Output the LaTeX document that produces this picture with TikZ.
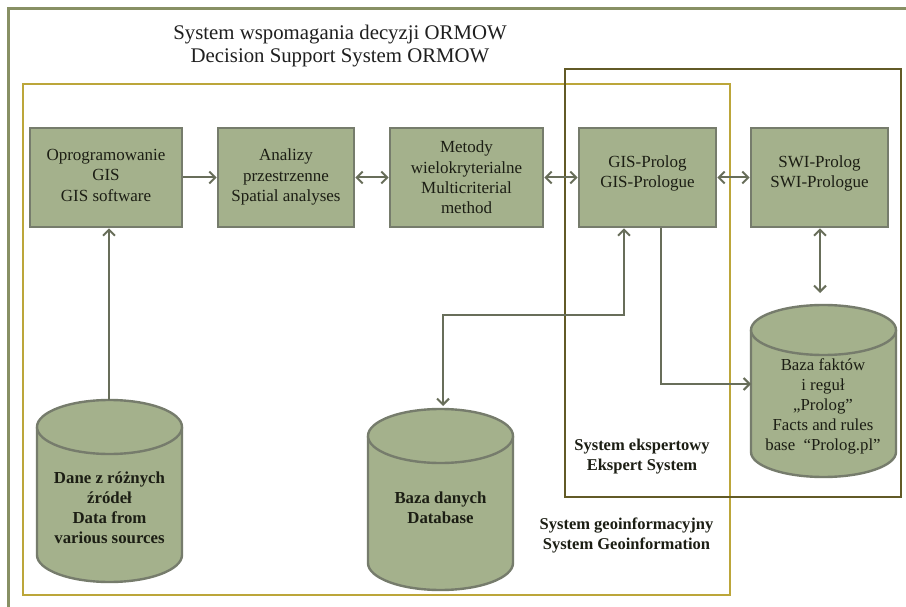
\documentclass[tikz,border=0pt]{standalone}
\usepackage{fontspec}
\setmainfont{Liberation Serif}
\usetikzlibrary{arrows.meta}
\definecolor{boxfill}{RGB}{164,177,140}
\definecolor{boxborder}{RGB}{118,124,108}
\definecolor{linecol}{RGB}{104,110,90}
\definecolor{outercol}{RGB}{136,144,100}
\definecolor{geocol}{RGB}{188,166,58}
\definecolor{expcol}{RGB}{98,90,38}
\definecolor{txtcol}{RGB}{28,30,20}
\tikzset{
  x=1pt, y=-1pt,
  stepbox/.style={draw=boxborder, fill=boxfill, line width=2.6pt, align=center,
    text=txtcol, font=\fontsize{17}{20.3}\selectfont, inner sep=0pt},
  conn/.style={draw=linecol, line width=2pt},
  tip/.tip={Straight Barb[length=6pt,width=12pt,line width=2pt]},
  cylline/.style={draw=boxborder, line width=2.4pt},
  cyltext/.style={align=center, text=txtcol, font=\fontsize{16.8}{20}\selectfont},
  labeltext/.style={align=center, text=txtcol, font=\bfseries\fontsize{16.5}{20}\selectfont},
}
\begin{document}
\begin{tikzpicture}
\useasboundingbox (0,0) rectangle (906,607);
\fill[white] (0,0) rectangle (906,607);
% frames
\draw[outercol, line width=3pt] (8,9) rectangle (915,615);
\draw[geocol, line width=2.8pt] (23,84) rectangle (730,595);
\draw[expcol, line width=2.8pt] (565,69) rectangle (901,497);
% title
\node[align=center, text=black!88, font=\fontsize{20.8}{23}\selectfont] (title) at (340,46.5)
  {System wspomagania decyzji ORMOW\\Decision Support System ORMOW};
% boxes
\node[stepbox, minimum width=152pt, minimum height=99pt] (b1) at (106,177.5)
  {Oprogramowanie\\GIS\\GIS software\\[-16pt]\mbox{}};
\node[stepbox, minimum width=136pt, minimum height=99pt] (b2) at (286,177.5)
  {Analizy\\przestrzenne\\Spatial analyses\\[-16pt]\mbox{}};
\node[stepbox, minimum width=153pt, minimum height=99pt] (b3) at (466.5,177.5)
  {Metody\\wielokryterialne\\Multicriterial\\method};
\node[stepbox, minimum width=137pt, minimum height=99pt] (b4) at (647.5,177.5)
  {GIS-Prolog\\GIS-Prologue\\[-9pt]\mbox{}};
\node[stepbox, minimum width=137pt, minimum height=99pt] (b5) at (819.5,177.5)
  {SWI-Prolog\\SWI-Prologue\\[-9pt]\mbox{}};
% cylinders
\fill[boxfill] (37,427) -- (37,555) arc[start angle=180,end angle=0,x radius=72.5,y radius=27] -- (182,427) -- cycle;
\draw[cylline] (37,427) -- (37,555) arc[start angle=180,end angle=0,x radius=72.5,y radius=27] -- (182,427);
\draw[cylline, fill=boxfill] (109.5,427) ellipse [x radius=72.5, y radius=27];
\fill[boxfill] (368,436) -- (368,563) arc[start angle=180,end angle=0,x radius=72.5,y radius=27] -- (513,436) -- cycle;
\draw[cylline] (368,436) -- (368,563) arc[start angle=180,end angle=0,x radius=72.5,y radius=27] -- (513,436);
\draw[cylline, fill=boxfill] (440.5,436) ellipse [x radius=72.5, y radius=27];
\fill[boxfill] (751,330) -- (751,452) arc[start angle=180,end angle=0,x radius=72.5,y radius=25] -- (896,330) -- cycle;
\draw[cylline] (751,330) -- (751,452) arc[start angle=180,end angle=0,x radius=72.5,y radius=25] -- (896,330);
\draw[cylline, fill=boxfill] (823.5,330) ellipse [x radius=72.5, y radius=25];
\node[cyltext, font=\bfseries\fontsize{16.8}{20}\selectfont] (c1) at (109.5,508)
  {Dane z różnych\\źródeł\\Data from\\various sources};
\node[cyltext, font=\bfseries\fontsize{16.8}{20}\selectfont] (c2) at (440.5,508)
  {Baza danych\\Database};
\node[cyltext] (c3) at (823,406)
  {Baza faktów\\i reguł\\„Prolog”\\Facts and rules\\base~ “Prolog.pl”};
% labels
\node[labeltext] (lexp) at (642,457) {System ekspertowy\\Ekspert System};
\node[labeltext] (lgeo) at (626.5,535) {System geoinformacyjny\\System Geoinformation};
% connector points
\coordinate (c1top) at (109,400);
\coordinate (c2top) at (443,406);
\coordinate (c3top) at (820,293);
\coordinate (c3west) at (751,384);
\coordinate (j1) at (624,315);
\coordinate (j2) at (443,315);
\coordinate (k1) at (661,384);
% connectors
\draw[conn, -{tip}] (b1.east) -- (b2.west);
\draw[conn, {tip}-{tip}] (b2.east) -- (b3.west);
\draw[conn, {tip}-{tip}] (b3.east) -- (b4.west);
\draw[conn, {tip}-{tip}] (b4.east) -- (b5.west);
\draw[conn, -{tip}] (c1top) -- (c1top |- b1.south);
\draw[conn, {tip}-{tip}] (j1 |- b4.south) -- (j1) -- (j2) -- (c2top);
\draw[conn, -{tip}] (k1 |- b4.south) -- (k1) -- (c3west);
\draw[conn, {tip}-{tip}] (b5.south -| c3top) -- (c3top);
\end{tikzpicture}
\end{document}
